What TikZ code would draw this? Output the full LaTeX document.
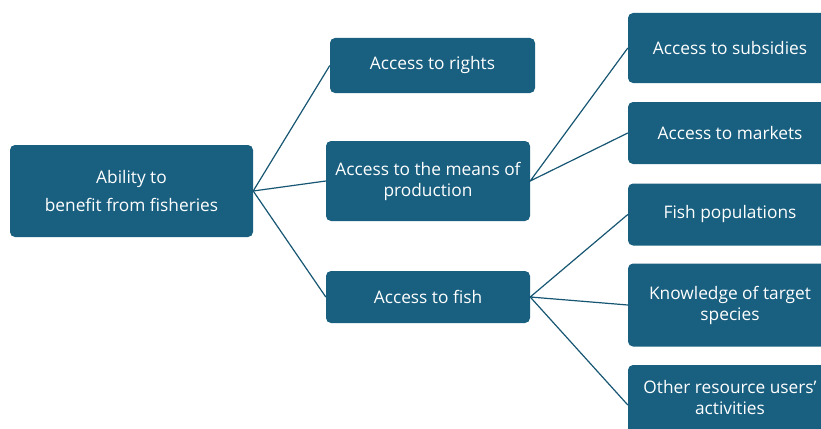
\documentclass[tikz,border=0pt]{standalone}
\usepackage{fontspec}
\setmainfont{Open Sans}
\definecolor{fishblue}{HTML}{195F7F}
\tikzset{
  box/.style = {fill = fishblue, text = white, rounded corners = 5pt, align = center,
    font = \fontsize{17.3}{21}\selectfont, inner sep = 2pt},
  link/.style = {draw = fishblue!90!black, line width = 1.2pt}
}
\begin{document}
\begin{tikzpicture}[x = 1pt, y = -1pt]
  \useasboundingbox (0,0) rectangle (821,428);
  \clip (0,0) rectangle (821,428);
  \node [box, minimum width = 243, minimum height = 92] (ability) at (131.5,191)
    {Ability to\\[7pt]benefit from fisheries};
  \node [box, minimum width = 205, minimum height = 55] (rights) at (432.5,65.5) {Access to rights};
  \node [box, minimum width = 204, minimum height = 80] (means) at (428,181)
    {Access to the means of\\production};
  \node [box, minimum width = 204, minimum height = 52] (fish) at (428,297) {Access to fish};
  \node [box, minimum width = 204, minimum height = 70] (subsidies) at (730,48) {Access to subsidies};
  \node [box, minimum width = 204, minimum height = 62] (markets) at (730,133) {Access to markets};
  \node [box, minimum width = 204, minimum height = 62] (stocks) at (730,214.5) {Fish populations};
  \node [box, minimum width = 204, minimum height = 83] (knowledge) at (730,305)
    {Knowledge of target\\species};
  \node [box, minimum width = 204, minimum height = 80, text depth = 16pt] (others) at (730,405)
    {Other resource users’\\activities};
  \draw [link] (rights.west) -- (ability.east) -- (means.west);
  \draw [link] (ability.east) -- (fish.west);
  \draw [link] (subsidies.west) -- (means.east) -- (markets.west);
  \draw [link] (stocks.west) -- (fish.east) -- (knowledge.west);
  \draw [link] (fish.east) -- (others.west);
\end{tikzpicture}
\end{document}
